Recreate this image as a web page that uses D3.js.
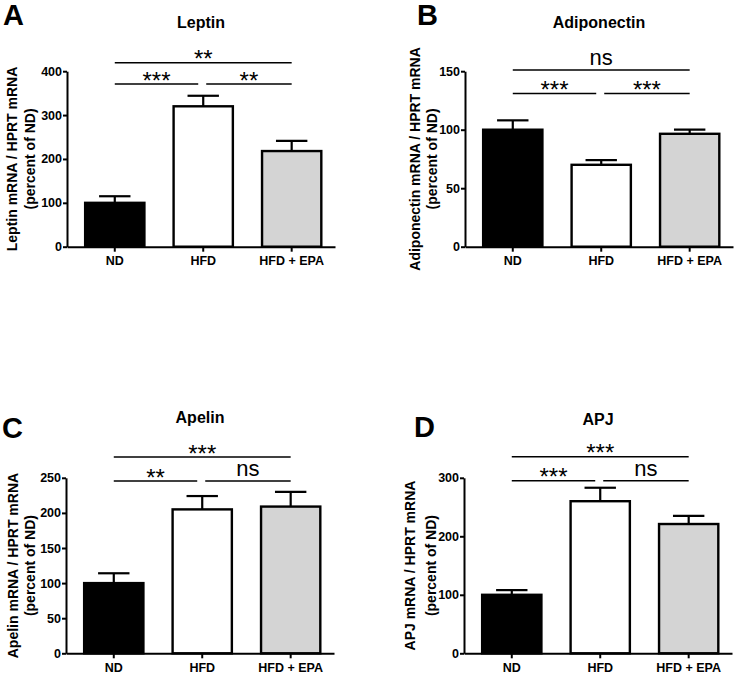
<!DOCTYPE html>
<html>
<head>
<meta charset="utf-8">
<script src="https://cdn.jsdelivr.net/npm/d3@7"></script>
<style>
  body { margin: 0; background: #fff; }
  svg text { font-family: "Liberation Sans", Arial, sans-serif; }
</style>
</head>
<body>
<div id="chart"></div>
<script>
// groups and panels
const groups = ["ND", "HFD", "HFD + EPA"];
const panelLetters = ["A", "B", "C", "D"];
const titles = ["Leptin", "Adiponectin", "Apelin", "APJ"];
const yLabels = [
  "Leptin mRNA / HPRT mRNA",
  "Adiponectin mRNA / HPRT mRNA",
  "Apelin mRNA / HPRT mRNA",
  "APJ mRNA / HPRT mRNA"
];
const yLabel2 = "(percent of ND)";

// mean and SEM, percent of ND
const leptinMean = [100, 320, 218];
const leptinSem = [15, 24, 23];
const adipoMean = [100, 70, 96.5];
const adipoSem = [8, 4, 3.5];
const apelinMean = [100, 205, 209];
const apelinSem = [14, 19, 21];
const apjMean = [100, 260, 221];
const apjSem = [8, 23, 14];

// y axis ticks
const leptinTicks = [0, 100, 200, 300, 400];
const adipoTicks = [0, 50, 100, 150];
const apelinTicks = [0, 50, 100, 150, 200, 250];
const apjTicks = [0, 100, 200, 300];

// significance: [ND vs HFD+EPA, ND vs HFD, HFD vs HFD+EPA]
const leptinSig = ["**", "***", "**"];
const adipoSig = ["ns", "***", "***"];
const apelinSig = ["***", "**", "ns"];
const apjSig = ["***", "***", "ns"];

const means = [leptinMean, adipoMean, apelinMean, apjMean];
const sems = [leptinSem, adipoSem, apelinSem, apjSem];
const ticks = [leptinTicks, adipoTicks, apelinTicks, apjTicks];
const sigs = [leptinSig, adipoSig, apelinSig, apjSig];

const fills = ["#000000", "#ffffff", "#d4d4d4"];

// layout of each panel
const axisX = [67, 465, 66, 464];
const axisY0 = [246.7, 246.7, 653.3, 653.3];
const plotH = 175.5, plotW = 268;
const sigTop = [62.7, 70, 457, 456.7];
const sigLow = [84, 93.5, 481, 480.7];
const letterPos = [[3, 25], [417, 25], [2, 437.5], [414, 437]];
const titleY = [28, 28.3, 423.3, 425];
const labOff1 = [55, 50, 53, 54];
const labOff2 = [37, 33, 36, 33];

var svg = d3.select("#chart").append("svg")
    .attr("width", 740)
    .attr("height", 675);

for (let p = 0; p < 4; p++) {
  drawPanel(p);
}

function drawPanel (p) {

  var ax = axisX[p], y0 = axisY0[p];
  var g = svg.append("g");

  var x = d3.scaleBand()
      .domain(groups)
      .range([ax, ax + plotW])
      .paddingInner(0.33)
      .paddingOuter(0.18)
      .align(0.57);

  var tk = ticks[p];
  var y = d3.scaleLinear()
      .domain([0, tk[tk.length - 1]])
      .range([y0, y0 - plotH]);

  var data = groups.map(function (gname, i) {
    return {name: gname, mean: means[p][i], sem: sems[p][i], fill: fills[i]};
  });

  // bars
  g.selectAll(".bar")
      .data(data)
    .enter().append("rect")
      .attr("class", "bar")
      .attr("x", function (d) { return x(d.name); })
      .attr("width", x.bandwidth())
      .attr("y", function (d) { return y(d.mean); })
      .attr("height", function (d) { return y0 - y(d.mean); })
      .attr("fill", function (d) { return d.fill; })
      .attr("stroke", "#000")
      .attr("stroke-width", 2.4);

  // error bars (upper only)
  var capW = x.bandwidth() * 0.53;
  var eb = g.selectAll(".err")
      .data(data)
    .enter().append("g")
      .attr("class", "err")
      .attr("stroke", "#000")
      .attr("stroke-width", 2.2);
  eb.append("line")
      .attr("x1", function (d) { return x(d.name) + x.bandwidth() / 2; })
      .attr("x2", function (d) { return x(d.name) + x.bandwidth() / 2; })
      .attr("y1", function (d) { return y(d.mean); })
      .attr("y2", function (d) { return y(d.mean + d.sem); });
  eb.append("line")
      .attr("x1", function (d) { return x(d.name) + x.bandwidth() / 2 - capW / 2; })
      .attr("x2", function (d) { return x(d.name) + x.bandwidth() / 2 + capW / 2; })
      .attr("y1", function (d) { return y(d.mean + d.sem); })
      .attr("y2", function (d) { return y(d.mean + d.sem); });

  // axes
  var yAxis = g.append("g")
      .attr("transform", "translate(" + ax + ",0)")
      .call(d3.axisLeft(y).tickValues(tk).tickSize(4).tickSizeOuter(0).tickPadding(1));
  var xAxis = g.append("g")
      .attr("transform", "translate(0," + y0 + ")")
      .call(d3.axisBottom(x).tickSize(5).tickSizeOuter(0).tickPadding(4.4));

  [yAxis, xAxis].forEach(function (a) {
    a.selectAll("path, line").attr("stroke", "#000").attr("stroke-width", 2);
    a.selectAll("text")
        .attr("fill", "#000")
        .style("font-family", "'Liberation Sans', Arial, sans-serif")
        .style("font-weight", "bold");
  });
  yAxis.selectAll("text").style("font-size", "12.5px");
  xAxis.selectAll("text").style("font-size", "12.5px");

  // y label
  var cy = y0 - plotH / 2;
  g.append("text")
      .attr("transform", "translate(" + (ax - labOff1[p]) + "," + cy + ") rotate(-90)")
      .attr("text-anchor", "middle")
      .attr("dominant-baseline", "central")
      .style("font-size", "14px")
      .style("font-weight", "bold")
      .text(yLabels[p]);
  g.append("text")
      .attr("transform", "translate(" + (ax - labOff2[p]) + "," + cy + ") rotate(-90)")
      .attr("text-anchor", "middle")
      .attr("dominant-baseline", "central")
      .style("font-size", "14px")
      .style("font-weight", "bold")
      .text(yLabel2);

  // title and panel letter
  g.append("text")
      .attr("x", ax + plotW / 2)
      .attr("y", titleY[p])
      .attr("text-anchor", "middle")
      .style("font-size", "16px")
      .style("font-weight", "bold")
      .text(titles[p]);
  g.append("text")
      .attr("x", letterPos[p][0])
      .attr("y", letterPos[p][1])
      .style("font-size", "29px")
      .style("font-weight", "bold")
      .text(panelLetters[p]);

  // significance brackets
  var cx = groups.map(function (gname) { return x(gname) + x.bandwidth() / 2; });
  var segs = [
    {x1: cx[0], x2: cx[2], y: sigTop[p], lab: sigs[p][0]},
    {x1: cx[0], x2: cx[1] - 5, y: sigLow[p], lab: sigs[p][1]},
    {x1: cx[1] + 3, x2: cx[2], y: sigLow[p], lab: sigs[p][2]}
  ];
  segs.forEach(function (s) {
    g.append("line")
        .attr("x1", s.x1).attr("x2", s.x2)
        .attr("y1", s.y).attr("y2", s.y)
        .attr("stroke", "#000")
        .attr("stroke-width", 1.6);
    var t = g.append("text")
        .attr("x", (s.x1 + s.x2) / 2)
        .attr("text-anchor", "middle")
        .text(s.lab);
    if (s.lab === "ns") {
      t.attr("y", s.y - 5)
          .style("font-family", "'Liberation Sans Narrow', 'Liberation Sans', Arial, sans-serif")
          .style("font-size", "22px");
    } else {
      t.attr("y", s.y + 4.5)
          .style("font-size", "24px");
    }
  });
}
</script>
</body>
</html>
